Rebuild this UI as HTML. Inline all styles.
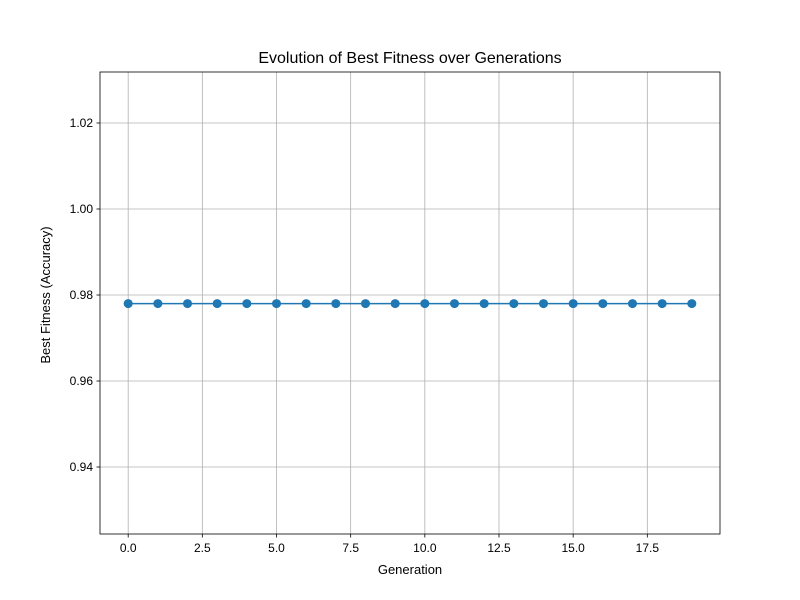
<!DOCTYPE html>
<html><head><meta charset="utf-8"><style>body{margin:0;background:#fff}svg{display:block;font-family:"Liberation Sans","DejaVu Sans",sans-serif}</style></head>
<body>
<svg id="chart" width="800" height="600"></svg>
<script>
const generations=[0,1,2,3,4,5,6,7,8,9,10,11,12,13,14,15,16,17,18,19];
const fitness=[0.978,0.978,0.978,0.978,0.978,0.978,0.978,0.978,0.978,0.978,0.978,0.978,0.978,0.978,0.978,0.978,0.978,0.978,0.978,0.978];
const xTicks=[0,2.5,5,7.5,10,12.5,15,17.5];
const xTickLabels=["0.0","2.5","5.0","7.5","10.0","12.5","15.0","17.5"];
const yTicks=[0.94,0.96,0.98,1.00,1.02];
const yTickLabels=["0.94","0.96","0.98","1.00","1.02"];
const L=100,R=720,T=72,B=534;
const xMin=-0.95,xMax=19.95,yMin=0.92442,yMax=1.03186;
const sx=v=>L+(v-xMin)/(xMax-xMin)*(R-L);
const sy=v=>B-(v-yMin)/(yMax-yMin)*(B-T);
const svg=document.getElementById('chart');
const NS='http://www.w3.org/2000/svg';
function mk(tag,attrs,parent){const e=document.createElementNS(NS,tag);for(const k in attrs)e.setAttribute(k,attrs[k]);(parent||svg).appendChild(e);return e;}
xTicks.forEach((t,i)=>{const x=sx(t);
 const g=mk('line',{x1:x,x2:x,y1:T,y2:B,stroke:'#b0b0b0','stroke-width':0.8});
 
 
 mk('line',{x1:x,x2:x,y1:B,y2:B+3.5,stroke:'#000','stroke-width':0.8});
 const tx=mk('text',{x:x,y:B+18,'text-anchor':'middle','font-size':12});tx.textContent=xTickLabels[i];
 
 
});
yTicks.forEach((t,i)=>{const y=sy(t);
 const g=mk('line',{x1:L,x2:R,y1:y,y2:y,stroke:'#b0b0b0','stroke-width':0.8});
 
 
 mk('line',{x1:L-3.5,x2:L,y1:y,y2:y,stroke:'#000','stroke-width':0.8});
 const tx=mk('text',{x:L-7,y:y+4,'text-anchor':'end','font-size':12});tx.textContent=yTickLabels[i];
 
 
});
const pts=generations.map((g,i)=>sx(g)+','+sy(fitness[i])).join(' ');
const line=mk('polyline',{points:pts,fill:'none',stroke:'#1f77b4','stroke-width':1.5});


generations.forEach((g,i)=>{const c=mk('circle',{cx:sx(g),cy:sy(fitness[i]),r:4.5,fill:'#1f77b4'});
 
 });
const fr=mk('rect',{x:L,y:T,width:R-L,height:B-T,fill:'none',stroke:'#000','stroke-width':0.8});


</script>
<div style="position:absolute;left:0;top:0;width:800px;height:600px;pointer-events:none;font-family:'Liberation Sans','DejaVu Sans',sans-serif">
<div style="position:absolute;left:0;width:820px;top:50px;text-align:center;font-size:16px">Evolution of Best Fitness over Generations</div>
<div style="position:absolute;left:0;width:820px;top:562px;text-align:center;font-size:13px">Generation</div>
<div style="position:absolute;left:-54px;top:295px;width:200px;text-align:center;font-size:13px;transform:rotate(-90deg);transform-origin:center;line-height:16px;margin-top:-8px">Best Fitness (Accuracy)</div>
</div>
</body></html>
